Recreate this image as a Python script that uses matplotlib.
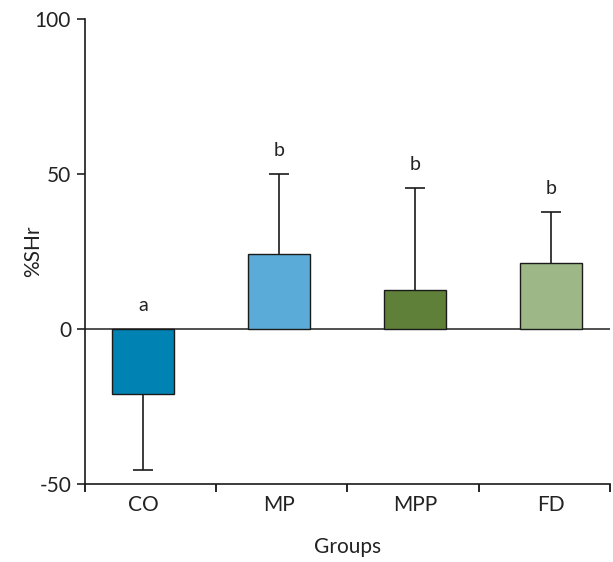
import numpy as np
import matplotlib.pyplot as plt

# data
groups = ['CO', 'MP', 'MPP', 'FD']
means = [-21.0, 24.3, 12.5, 21.3]
sds = [24.5, 25.7, 33.0, 16.4]
letters = ['a', 'b', 'b', 'b']
colors = ['#0083b3', '#5babd8', '#5f8038', '#9db886']

plt.rcParams['font.family'] = ['Lato', 'DejaVu Sans']
plt.rcParams['axes.unicode_minus'] = False

x = np.arange(len(groups))

fig = plt.figure(figsize=(6.13, 5.62), dpi=100)
ax = fig.add_axes([0.1387, 0.1388, 0.995 - 0.1387, 0.966 - 0.1388])

ax.bar(x, means, width=0.45, color=colors, edgecolor='#1a1a1a', linewidth=1.0, zorder=2)
ax.axhline(0, color='#333333', lw=1.2, zorder=1)

# one-sided error bars (away from zero)
for xi, m, s in zip(x, means, sds):
    neg = m < 0
    err = [[s], [0]] if neg else [[0], [s]]
    _, caps, _ = ax.errorbar(xi, m, yerr=err, fmt='none', ecolor='#1a1a1a',
                             elinewidth=1.2, capsize=7, capthick=1.2, zorder=1.5)
    caps[1 if neg else 0].set_visible(False)

for xi, m, s, lab in zip(x, means, sds, letters):
    top = m + s if m >= 0 else 0
    ax.text(xi, top + 5, lab, ha='center', va='bottom', fontsize=14, color='#222222')

xmin, xmax = -0.426, 3.434
ax.set_xlim(xmin, xmax)
ax.set_ylim(-50, 100)
ax.set_yticks([-50, 0, 50, 100])
ax.tick_params(axis='y', labelsize=15, length=6, width=1.2, colors='#222222', pad=4)

# boundary ticks on the bottom axis, labels at bar centers
ax.set_xticks(np.linspace(xmin, xmax, 5))
ax.set_xticklabels([])
ax.set_xticks(x, minor=True)
ax.set_xticklabels(groups, minor=True, fontsize=15, color='#222222')
ax.tick_params(axis='x', which='major', length=6, width=1.2, direction='out')
ax.tick_params(axis='x', which='minor', length=0, pad=8)

for side in ['top', 'right']:
    ax.spines[side].set_visible(False)
for side in ['left', 'bottom']:
    ax.spines[side].set_linewidth(1.2)
    ax.spines[side].set_color('#1a1a1a')

ax.set_ylabel('%SHr', fontsize=15, color='#222222')
ax.yaxis.set_label_coords(-0.08, 0.5)
ax.set_xlabel('Groups', fontsize=15, color='#222222', labelpad=16)

fig.savefig('out.png', dpi=100)
